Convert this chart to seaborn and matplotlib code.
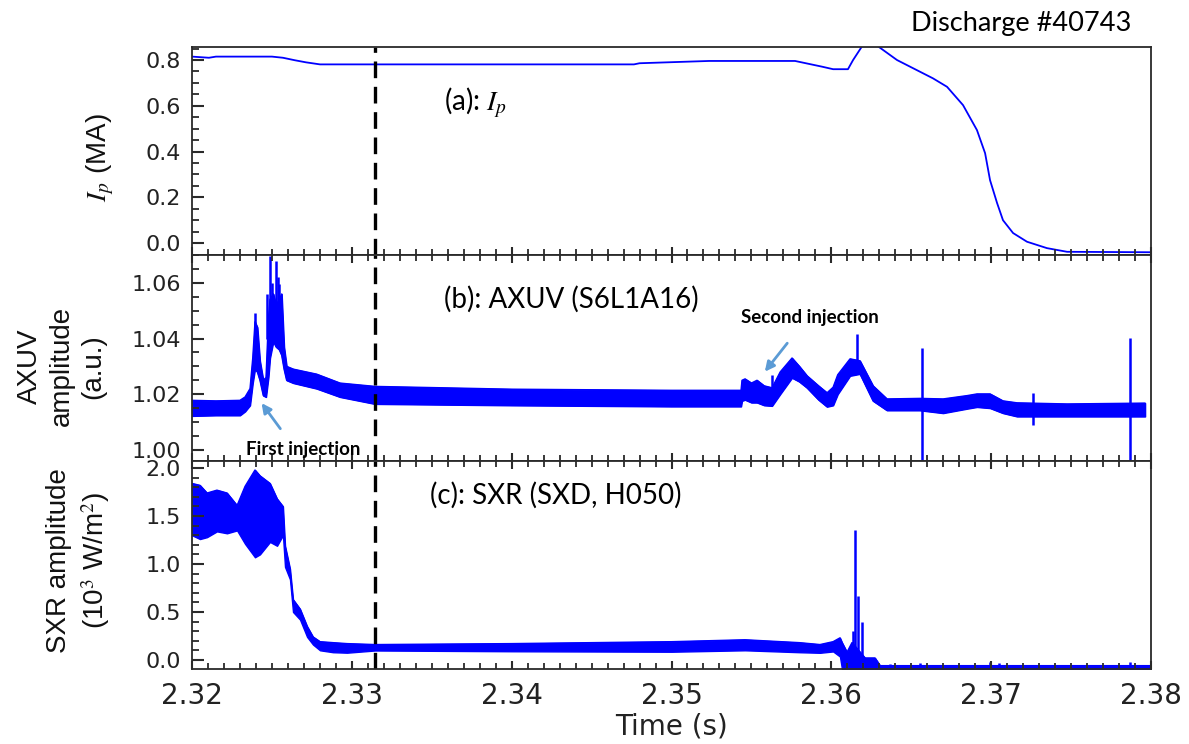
import matplotlib
matplotlib.use("Agg")
import matplotlib.pyplot as plt
from matplotlib.ticker import MultipleLocator, FormatStrFormatter
import seaborn as sns

# ---------------- plasma current I_p (MA) ----------------
ip_time = [2.32000, 2.32106, 2.32150, 2.32500, 2.32569, 2.32644, 2.32713, 2.32801,
           2.34765, 2.34800, 2.35235, 2.35773, 2.35942, 2.36011, 2.36104, 2.36136,
           2.36192, 2.36292, 2.36411, 2.36636, 2.36724, 2.36824, 2.36911, 2.36962,
           2.36993, 2.37037, 2.37074, 2.37137, 2.37224, 2.37349, 2.37475, 2.38000]
ip_value = [0.815, 0.810, 0.815, 0.815, 0.810, 0.799, 0.790, 0.781,
            0.781, 0.786, 0.796, 0.796, 0.771, 0.760, 0.760, 0.800,
            0.860, 0.860, 0.800, 0.720, 0.683, 0.603, 0.494, 0.393,
            0.275, 0.175, 0.100, 0.044, 0.006, -0.022, -0.038, -0.040]

# ---------------- AXUV (S6L1A16), noise envelope ----------------
axuv_time = [2.32000, 2.32150, 2.32300, 2.32332, 2.32363, 2.32380, 2.32394, 2.32409,
             2.32425, 2.32446, 2.32463, 2.32478, 2.32488, 2.32509, 2.32526, 2.32546,
             2.32561, 2.32576, 2.32592, 2.32634, 2.32780, 2.32926, 2.33145, 2.34000,
             2.35000, 2.35435, 2.35441, 2.35460, 2.35500, 2.35535, 2.35580, 2.35629,
             2.35680, 2.35754, 2.35800, 2.35848, 2.35920, 2.35973, 2.36011, 2.36040,
             2.36117, 2.36179, 2.36261, 2.36348, 2.36555, 2.36699, 2.36850, 2.36911,
             2.36993, 2.37074, 2.37162, 2.37475, 2.37963]
axuv_upper = [1.0178, 1.0176, 1.0178, 1.0190, 1.0220, 1.0330, 1.0460, 1.0440,
              1.0320, 1.0250, 1.0260, 1.0470, 1.0540, 1.0560, 1.0520, 1.0540,
              1.0560, 1.0370, 1.0300, 1.0290, 1.0272, 1.0240, 1.0228, 1.0218,
              1.0214, 1.0214, 1.0250, 1.0255, 1.0240, 1.0250, 1.0230, 1.0223,
              1.0280, 1.0330, 1.0300, 1.0266, 1.0230, 1.0205, 1.0225, 1.0270,
              1.0327, 1.0320, 1.0230, 1.0183, 1.0185, 1.0183, 1.0195, 1.0201,
              1.0201, 1.0176, 1.0169, 1.0165, 1.0168]
axuv_lower = [1.0122, 1.0124, 1.0124, 1.0138, 1.0160, 1.0240, 1.0290, 1.0280,
              1.0250, 1.0195, 1.0190, 1.0260, 1.0330, 1.0390, 1.0370, 1.0360,
              1.0340, 1.0290, 1.0250, 1.0240, 1.0220, 1.0190, 1.0165, 1.0160,
              1.0156, 1.0156, 1.0176, 1.0180, 1.0170, 1.0170, 1.0160, 1.0158,
              1.0200, 1.0259, 1.0245, 1.0223, 1.0180, 1.0155, 1.0160, 1.0200,
              1.0266, 1.0273, 1.0176, 1.0142, 1.0142, 1.0132, 1.0148, 1.0154,
              1.0150, 1.0132, 1.0120, 1.0120, 1.0120]
axuv_spike_time = [2.32394, 2.32470, 2.32488, 2.32500, 2.32526, 2.32535, 2.32546,
                   2.35630, 2.36161, 2.36567, 2.37262, 2.37869]
axuv_spike_low = [1.0400, 1.0400, 1.0450, 1.0450, 1.0450, 1.0450, 1.0450,
                  1.0200, 1.0300, 0.9950, 1.0090, 0.9950]
axuv_spike_high = [1.0493, 1.0560, 1.0697, 1.0600, 1.0679, 1.0620, 1.0595,
                   1.0270, 1.0417, 1.0366, 1.0205, 1.0402]

# ---------------- SXR (SXD, H050), noise envelope ----------------
sxr_time = [2.32000, 2.32050, 2.32094, 2.32156, 2.32219, 2.32282, 2.32332, 2.32394,
            2.32425, 2.32488, 2.32532, 2.32569, 2.32582, 2.32613, 2.32632, 2.32676,
            2.32720, 2.32757, 2.32801, 2.32882, 2.32970, 2.33145, 2.34000, 2.35000,
            2.35460, 2.35800, 2.35929, 2.36011, 2.36054, 2.36067, 2.36098, 2.36129,
            2.36211, 2.36273, 2.36305, 2.38000]
sxr_upper = [1.84, 1.82, 1.74, 1.77, 1.74, 1.61, 1.81, 1.98,
             1.92, 1.84, 1.68, 1.60, 1.19, 0.95, 0.63, 0.53,
             0.35, 0.24, 0.19, 0.18, 0.17, 0.16, 0.17, 0.19,
             0.21, 0.18, 0.16, 0.19, 0.23, 0.18, 0.08, 0.18,
             0.02, 0.02, -0.06, -0.06]
sxr_lower = [1.30, 1.26, 1.28, 1.34, 1.32, 1.35, 1.21, 1.07,
             1.10, 1.23, 1.19, 1.30, 0.97, 0.84, 0.50, 0.42,
             0.24, 0.16, 0.10, 0.08, 0.075, 0.098, 0.09, 0.085,
             0.10, 0.08, 0.074, 0.088, 0.035, -0.10, -0.10, -0.10,
             -0.10, -0.10, -0.10, -0.10]
sxr_spike_time = [2.36135, 2.36148, 2.36167, 2.36194, 2.36367, 2.36555, 2.36993,
                  2.37050, 2.37869]
sxr_spike_low = [-0.10, -0.10, -0.10, -0.10, -0.10, -0.10, -0.10, -0.10, -0.10]
sxr_spike_high = [0.30, 1.35, 0.67, 0.40, -0.04, -0.03, -0.02, -0.03, -0.02]

# ---------------- axes ranges, ticks and annotations ----------------
time_ticks = [2.32, 2.33, 2.34, 2.35, 2.36, 2.37, 2.38]
marker_time = 2.33145
ip_ticks = [0.0, 0.2, 0.4, 0.6, 0.8]
axuv_ticks = [1.00, 1.02, 1.04, 1.06]
sxr_ticks = [0.0, 0.5, 1.0, 1.5, 2.0]

BLUE = "#0000ff"
ARROW = "#5b9bd5"
FRAME = "#2a2a2a"

sns.set_theme(style="white")
plt.rcParams.update({
    "font.family": ["DejaVu Sans"],
    "mathtext.fontset": "stix",
    "axes.axisbelow": False,
    "xtick.direction": "in", "ytick.direction": "in",
    "xtick.bottom": True, "xtick.top": True,
    "ytick.left": True, "ytick.right": False,
    "xtick.major.size": 6, "xtick.minor.size": 4,
    "ytick.major.size": 8.5, "ytick.minor.size": 5,
    "xtick.major.width": 1.5, "xtick.minor.width": 1.3,
    "ytick.major.width": 1.5, "ytick.minor.width": 1.3,
    "xtick.color": FRAME, "ytick.color": FRAME,
    "xtick.labelcolor": "#222222", "ytick.labelcolor": "#222222",
    "xtick.minor.visible": True, "ytick.minor.visible": True,
})

fig = plt.figure(figsize=(11.89, 7.44), dpi=100)
W, H = 1189.0, 744.0
left, right = 192, 1151


def make_axes(top, bottom):
    return fig.add_axes([left / W, 1 - bottom / H, (right - left) / W, (bottom - top) / H])


ax_a = make_axes(47, 255)
ax_b = make_axes(255, 461)
ax_c = make_axes(461, 669)

# (a) plasma current
sns.lineplot(x=ip_time, y=ip_value, ax=ax_a, color=BLUE, linewidth=1.3,
             estimator=None, sort=False)

# (b) AXUV
ax_b.fill_between(axuv_time, axuv_lower, axuv_upper, color=BLUE, linewidth=1.0,
                  edgecolor=BLUE)
sns.lineplot(x=axuv_time, y=axuv_upper, ax=ax_b, color=BLUE, linewidth=1.0,
             estimator=None, sort=False)
sns.lineplot(x=axuv_time, y=axuv_lower, ax=ax_b, color=BLUE, linewidth=1.0,
             estimator=None, sort=False)
ax_b.vlines(axuv_spike_time, axuv_spike_low, axuv_spike_high, color=BLUE, linewidth=1.8)

# (c) SXR
ax_c.fill_between(sxr_time, sxr_lower, sxr_upper, color=BLUE, linewidth=1.0,
                  edgecolor=BLUE)
sns.lineplot(x=sxr_time, y=sxr_upper, ax=ax_c, color=BLUE, linewidth=1.0,
             estimator=None, sort=False)
ax_c.vlines(sxr_spike_time, sxr_spike_low, sxr_spike_high, color=BLUE, linewidth=1.8)

ax_a.set_ylim(-0.052, 0.857)
ax_b.set_ylim(0.996, 1.070)
ax_c.set_ylim(-0.095, 2.074)

for ax, yt, ymin, fmt in ((ax_a, ip_ticks, 0.05, "%.1f"),
                          (ax_b, axuv_ticks, 0.005, "%.2f"),
                          (ax_c, sxr_ticks, 0.1, "%.1f")):
    ax.set_xlim(time_ticks[0], time_ticks[-1])
    ax.set_xticks(time_ticks)
    ax.xaxis.set_minor_locator(MultipleLocator(0.001))
    ax.set_yticks(yt)
    ax.yaxis.set_minor_locator(MultipleLocator(ymin))
    ax.yaxis.set_major_formatter(FormatStrFormatter(fmt))
    ax.axvline(marker_time, color="black", linewidth=2.4, linestyle=(0, (5.0, 2.6)))
    for sp in ax.spines.values():
        sp.set_color(FRAME)
        sp.set_linewidth(1.3)
    ax.tick_params(axis="y", which="major", labelsize=16, pad=8)
    ax.tick_params(axis="x", which="major", labelsize=20, pad=9)
    ax.set_xlabel("")
    ax.set_ylabel("")

ax_a.tick_params(axis="x", which="both", top=False, labelbottom=False)
ax_b.tick_params(axis="x", which="both", labelbottom=False)

ax_c.set_xlabel("Time (s)", fontsize=20, color="#222222", labelpad=2)

# y-axis titles
ylab_font = dict(family=["Liberation Sans", "DejaVu Sans"], fontsize=20, color="#111111",
                 rotation=90, ha="center", va="center", multialignment="center",
                 linespacing=1.3)
ax_a.text(-0.096, 0.47, r"$I_p$ (MA)", transform=ax_a.transAxes, **ylab_font)
ax_b.text(-0.136, 0.46, "AXUV\namplitude\n(a.u.)", transform=ax_b.transAxes, **ylab_font)
ax_c.text(-0.118, 0.52, "SXR amplitude\n(10$^3$ W/m$^2$)", transform=ax_c.transAxes,
          **ylab_font)

# panel titles and annotations
txt_font = dict(family=["Lato", "DejaVu Sans"], color="black")
ax_a.text(2.33577, 0.612, r"(a): $I_p$", fontsize=20, va="center", ha="left", **txt_font)
ax_b.text(2.33577, 1.0542, "(b): AXUV (S6L1A16)", fontsize=20, va="center", ha="left",
          **txt_font)
ax_c.text(2.33489, 1.716, "(c): SXR (SXD, H050)", fontsize=20, va="center", ha="left",
          **txt_font)
fig.text(1021 / W, 1 - 23 / H, "Discharge #40743", fontsize=19.5, ha="center",
         va="center", **txt_font)

ax_b.text(2.32695, 1.0000, "First injection", fontsize=13.5, fontweight="bold",
          ha="center", va="center", **txt_font)
ax_b.text(2.35867, 1.0474, "Second injection", fontsize=13.5, fontweight="bold",
          ha="center", va="center", **txt_font)
ax_b.annotate("", xy=(2.32425, 1.0176), xytext=(2.32563, 1.0068),
              arrowprops=dict(arrowstyle="-|>", color=ARROW, lw=2.0, mutation_scale=14))
ax_b.annotate("", xy=(2.35573, 1.0273), xytext=(2.35735, 1.0391),
              arrowprops=dict(arrowstyle="-|>", color=ARROW, lw=2.0, mutation_scale=14))

fig.savefig("out.png", dpi=100, facecolor="white")
